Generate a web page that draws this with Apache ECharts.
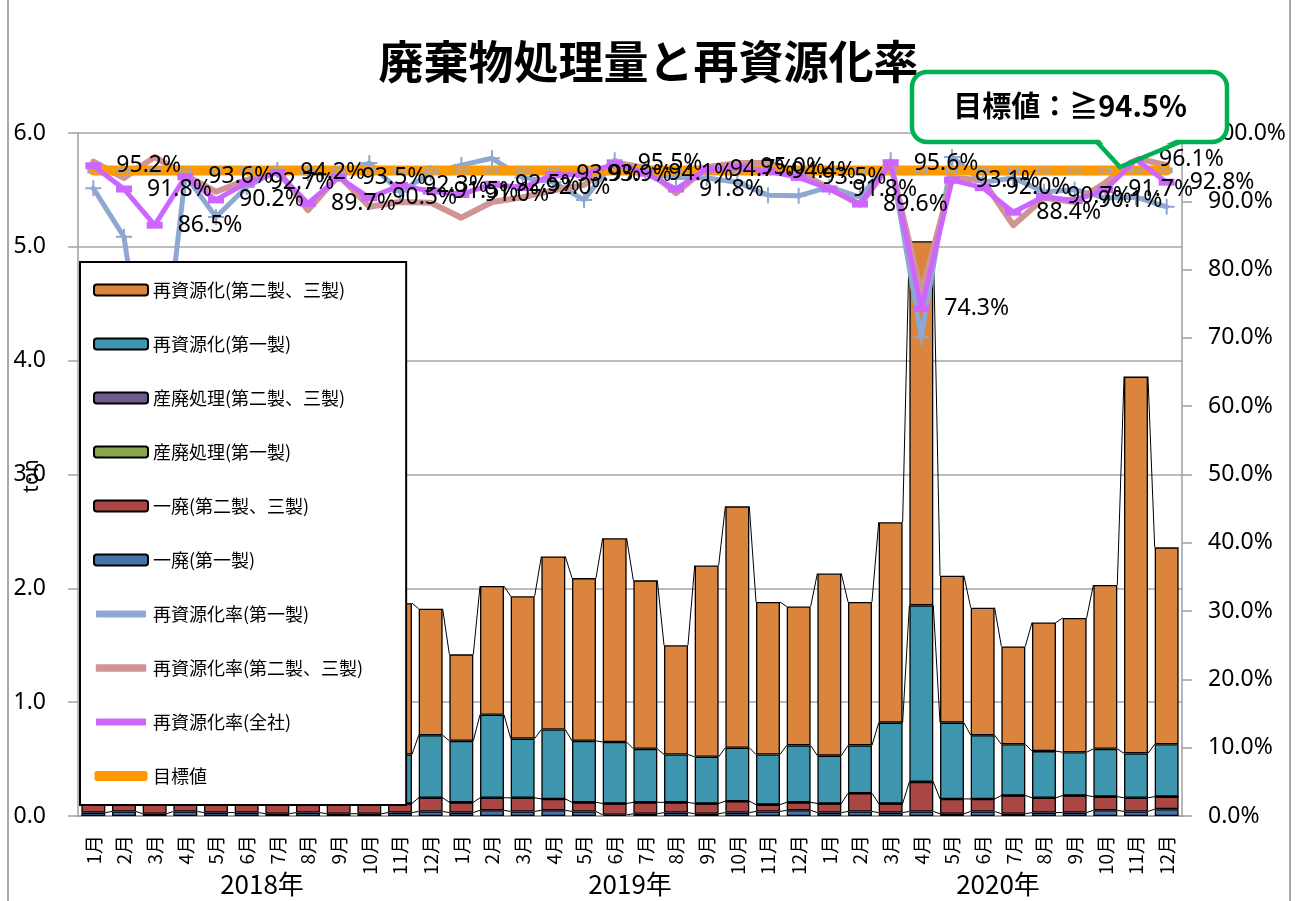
<!DOCTYPE html>
<html>
<head>
<meta charset="utf-8">
<script src="https://cdn.jsdelivr.net/npm/echarts@6/dist/echarts.min.js"></script>
<style>
  html, body { margin: 0; padding: 0; background: #fff; }
  #chart { width: 1297px; height: 901px; }
</style>
</head>
<body>
<div id="chart"></div>
<script>
// カテゴリ
var months = ['1月', '2月', '3月', '4月', '5月', '6月', '7月', '8月', '9月', '10月', '11月', '12月',
  '1月', '2月', '3月', '4月', '5月', '6月', '7月', '8月', '9月', '10月', '11月', '12月',
  '1月', '2月', '3月', '4月', '5月', '6月', '7月', '8月', '9月', '10月', '11月', '12月'];
var years = ['2018年', '2019年', '2020年'];

// 処理量 (ton)
var ippai1 = [0.03, 0.04, 0.02, 0.04, 0.03, 0.03, 0.02, 0.03, 0.02, 0.02, 0.03, 0.04,
  0.03, 0.05, 0.04, 0.05, 0.04, 0.01, 0.02, 0.03, 0.02, 0.03, 0.04, 0.05,
  0.03, 0.04, 0.03, 0.04, 0.02, 0.04, 0.02, 0.03, 0.03, 0.05, 0.04, 0.06];
var ippai23 = [0.08, 0.06, 0.08, 0.06, 0.07, 0.07, 0.08, 0.07, 0.08, 0.08, 0.08, 0.12,
  0.09, 0.11, 0.12, 0.10, 0.08, 0.10, 0.10, 0.09, 0.09, 0.10, 0.06, 0.07,
  0.08, 0.16, 0.08, 0.26, 0.13, 0.11, 0.16, 0.13, 0.15, 0.12, 0.12, 0.11];
var sanpai1 = [0, 0, 0, 0, 0, 0, 0, 0, 0, 0, 0, 0,
  0, 0, 0, 0, 0, 0, 0, 0, 0, 0, 0, 0,
  0, 0, 0, 0, 0, 0, 0, 0, 0, 0, 0, 0];
var sanpai23 = [0, 0, 0, 0, 0, 0, 0, 0, 0, 0, 0, 0,
  0, 0, 0, 0, 0, 0, 0, 0, 0, 0, 0, 0,
  0, 0, 0, 0, 0, 0, 0, 0, 0, 0, 0, 0];
var sai1 = [0.44, 0.48, 0.52, 0.45, 0.50, 0.55, 0.47, 0.52, 0.48, 0.50, 0.43, 0.55,
  0.54, 0.73, 0.52, 0.61, 0.54, 0.54, 0.47, 0.42, 0.41, 0.47, 0.44, 0.50,
  0.42, 0.42, 0.71, 1.55, 0.67, 0.56, 0.45, 0.41, 0.38, 0.42, 0.39, 0.46];
var sai23 = [1.86, 1.32, 1.48, 1.25, 1.40, 1.55, 1.33, 1.68, 1.42, 1.50, 1.33, 1.11,
  0.76, 1.13, 1.25, 1.52, 1.43, 1.79, 1.48, 0.96, 1.68, 2.12, 1.34, 1.22,
  1.60, 1.26, 1.76, 3.20, 1.29, 1.12, 0.86, 1.13, 1.18, 1.44, 3.31, 1.73];

// 再資源化率 (%)
var rate1 = [91.9, 84.8, 55.0, 93.8, 87.7, 92.1, 94.6, 94.1, 94.0, 95.6, 91.4, 94.1,
  95.3, 96.3, 93.5, 92.8, 90.2, 96.0, 94.1, 93.5, 93.4, 92.8, 90.9, 90.8,
  92.1, 90.6, 96.0, 70.1, 96.5, 92.8, 93.4, 91.4, 91.7, 90.5, 90.6, 89.2];
var rate23 = [95.8, 93.4, 96.5, 93.8, 91.4, 93.1, 94.6, 88.7, 93.8, 89.2, 89.9, 89.8,
  87.6, 89.9, 90.6, 91.6, 92.4, 95.7, 94.9, 91.2, 95.0, 95.6, 95.6, 94.3,
  91.9, 89.5, 95.5, 76.5, 93.4, 93.1, 86.5, 90.5, 89.9, 92.7, 96.3, 95.3];
var rateAll = [95.2, 91.8, 86.5, 93.6, 90.2, 92.7, 94.2, 89.7, 93.5, 90.5, 92.3, 91.5,
  91.0, 92.5, 92.0, 93.9, 93.9, 95.5, 94.1, 91.8, 94.7, 95.0, 94.4, 93.5,
  91.8, 89.6, 95.6, 74.3, 93.1, 92.0, 88.4, 90.7, 90.1, 91.7, 96.1, 92.8];
var target = [94.5, 94.5, 94.5, 94.5, 94.5, 94.5, 94.5, 94.5, 94.5, 94.5, 94.5, 94.5,
  94.5, 94.5, 94.5, 94.5, 94.5, 94.5, 94.5, 94.5, 94.5, 94.5, 94.5, 94.5,
  94.5, 94.5, 94.5, 94.5, 94.5, 94.5, 94.5, 94.5, 94.5, 94.5, 94.5, 94.5];

var BAR_GAP = 0.22;
var FONT = '"Noto Sans", "Noto Sans CJK JP", sans-serif';
var CJK = '"Noto Sans CJK JP", sans-serif';
var GREEN = '#00B050';
var C_RATE1 = '#8FA8D2';
var C_RATE23 = '#D09494';
var C_ALL = '#CC66FF';
var C_TARGET = '#FF9900';

// 積み上げの各段の上端 (区分線用)
var stackTops = [];
(function () {
  var acc = months.map(function () { return 0; });
  [ippai1, ippai23, sai1, sai23].forEach(function (arr, k) {
    acc = acc.map(function (v, i) { return v + arr[i] + (k === 2 ? sanpai1[i] + sanpai23[i] : 0); });
    stackTops.push(acc.slice());
  });
})();

function seriesLines (params, api) {
  var i = api.value(0);
  var half = api.size([1, 0])[0] * (1 - BAR_GAP) / 2;
  var children = stackTops.map(function (tops) {
    var a = api.coord([i, tops[i]]);
    var b = api.coord([i + 1, tops[i + 1]]);
    return {
      type: 'line',
      shape: { x1: a[0] + half, y1: a[1], x2: b[0] - half, y2: b[1] },
      style: { stroke: '#000', lineWidth: 1 }
    };
  });
  return { type: 'group', children: children };
}

function barSeries (name, data, color) {
  return {
    name: name,
    type: 'bar',
    stack: 'waste',
    barCategoryGap: (BAR_GAP * 100) + '%',
    data: data,
    itemStyle: { color: color, borderColor: '#000', borderWidth: 1.3 },
    emphasis: { disabled: true }
  };
}

// 凡例の線アイコン (丸端の太線)
function lineIcon (name, color, border) {
  return {
    name: name,
    icon: 'roundRect',
    itemStyle: { color: color, borderColor: '#fff', borderWidth: border }
  };
}

var plusPath = 'path://M7,0 L9,0 L9,7 L16,7 L16,9 L9,9 L9,16 L7,16 L7,9 L0,9 L0,7 L7,7 Z';

var chart = echarts.init(document.getElementById('chart'), null, { renderer: 'canvas' });

var option = {
  animation: false,
  backgroundColor: '#fff',
  title: {
    text: '廃棄物処理量と再資源化率',
    left: 'center',
    top: 34,
    textStyle: { fontSize: 45, fontWeight: 'bold', color: '#000', fontFamily: CJK }
  },
  grid: { left: 78, right: 115, top: 133, bottom: 85, outerBoundsMode: 'none' },
  legend: {
    orient: 'vertical',
    left: 80,
    top: 262,
    padding: [18, 43, 19, 12],
    itemWidth: 54,
    itemHeight: 11,
    itemGap: 34,
    backgroundColor: '#fff',
    borderColor: '#000',
    borderWidth: 2,
    textStyle: { fontSize: 18, lineHeight: 20, color: '#000', fontFamily: CJK },
    data: ['再資源化(第二製、三製)', '再資源化(第一製)', '産廃処理(第二製、三製)', '産廃処理(第一製)',
      '一廃(第二製、三製)', '一廃(第一製)',
      lineIcon('再資源化率(第一製)', C_RATE1, 4),
      lineIcon('再資源化率(第二製、三製)', C_RATE23, 3.5),
      lineIcon('再資源化率(全社)', C_ALL, 4),
      lineIcon('目標値', C_TARGET, 1)]
  },
  xAxis: [
    {
      type: 'category',
      data: months,
      axisLine: { lineStyle: { color: '#A0A0A0', width: 1.5 } },
      axisTick: { show: false },
      axisLabel: { interval: 0, rotate: 90, margin: 19, fontSize: 19, color: '#000', fontFamily: CJK }
    },
    {
      type: 'category',
      data: years,
      position: 'bottom',
      axisLine: { show: false },
      axisTick: { show: false },
      axisLabel: { margin: 55, fontSize: 26, color: '#000', fontFamily: CJK }
    }
  ],
  yAxis: [
    {
      type: 'value',
      min: 0,
      max: 6,
      interval: 1,
      axisLine: { show: true, lineStyle: { color: '#A0A0A0', width: 1.5 } },
      axisTick: { show: true, length: 10, lineStyle: { color: '#A0A0A0', width: 1.5 } },
      splitLine: { lineStyle: { color: '#A6A6A6', width: 1.5 } },
      axisLabel: { margin: 32, fontSize: 23, color: '#000', fontFamily: FONT,
        formatter: function (v) { return v.toFixed(1); } }
    },
    {
      type: 'value',
      min: 0,
      max: 100,
      interval: 10,
      position: 'right',
      axisLine: { show: true, lineStyle: { color: '#A0A0A0', width: 1.5 } },
      axisTick: { show: true, length: 10, lineStyle: { color: '#A0A0A0', width: 1.5 } },
      splitLine: { show: false },
      axisLabel: { margin: 26, fontSize: 23, color: '#000', fontFamily: FONT,
        formatter: function (v) { return v.toFixed(1) + '%'; } }
    }
  ],
  series: [
    barSeries('一廃(第一製)', ippai1, '#4572A7'),
    barSeries('一廃(第二製、三製)', ippai23, '#AA4643'),
    barSeries('産廃処理(第一製)', sanpai1, '#89A54E'),
    barSeries('産廃処理(第二製、三製)', sanpai23, '#71588F'),
    barSeries('再資源化(第一製)', sai1, '#3D96AE'),
    barSeries('再資源化(第二製、三製)', sai23, '#DB843D'),
    {
      type: 'custom',
      renderItem: seriesLines,
      data: months.slice(0, months.length - 1).map(function (m, i) { return [i, stackTops[3][i]]; }),
      encode: { x: 0, y: 1 },
      silent: true,
      z: 2
    },
    {
      name: '再資源化率(第一製)',
      type: 'line',
      yAxisIndex: 1,
      data: rate1,
      symbol: plusPath,
      symbolSize: 16,
      itemStyle: { color: C_RATE1 },
      lineStyle: { color: C_RATE1, width: 5, cap: 'round', join: 'round' },
      z: 3
    },
    {
      name: '再資源化率(第二製、三製)',
      type: 'line',
      yAxisIndex: 1,
      data: rate23,
      symbol: 'none',
      itemStyle: { color: C_RATE23 },
      lineStyle: { color: C_RATE23, width: 6, cap: 'round', join: 'round' },
      z: 3
    },
    {
      name: '目標値',
      type: 'line',
      yAxisIndex: 1,
      data: target,
      symbol: 'rect',
      symbolSize: [10, 5],
      itemStyle: { color: C_TARGET, borderColor: '#9AA6C8', borderWidth: 1.5 },
      lineStyle: { color: C_TARGET, width: 10, cap: 'round' },
      z: 3
    },
    {
      name: '再資源化率(全社)',
      type: 'line',
      yAxisIndex: 1,
      data: rateAll,
      symbol: 'rect',
      symbolSize: [16, 7],
      itemStyle: { color: C_ALL },
      lineStyle: { color: C_ALL, width: 5, cap: 'round', join: 'round' },
      label: {
        show: true,
        position: 'right',
        distance: 15,
        fontSize: 23,
        color: '#000',
        fontFamily: FONT,
        formatter: function (p) { return p.value.toFixed(1) + '%'; }
      },
      z: 4
    }
  ],
  graphic: [
    {
      type: 'rect',
      shape: { x: 8, y: -4, width: 1282, height: 912 },
      style: { fill: 'none', stroke: '#8C8C8C', lineWidth: 1.5 },
      silent: true,
      z: 0
    },
    // 縦軸タイトル
    {
      type: 'text',
      x: 32,
      y: 476,
      rotation: Math.PI / 2,
      style: {
        text: 'ton',
        fontSize: 21,
        fontFamily: FONT,
        fill: '#000',
        align: 'center',
        verticalAlign: 'middle'
      },
      z: 50
    },
    // 吹き出し
    {
      type: 'rect',
      shape: { x: 912, y: 72, width: 315, height: 70, r: 15 },
      style: { fill: '#fff', stroke: GREEN, lineWidth: 4.5 },
      z: 100
    },
    {
      type: 'polygon',
      shape: { points: [[1099, 139], [1120, 164], [1178, 139]] },
      style: { fill: '#fff' },
      z: 101
    },
    {
      type: 'polyline',
      shape: { points: [[1097, 142], [1120, 167], [1180, 142]] },
      style: { stroke: GREEN, lineWidth: 4.5, lineJoin: 'miter', fill: null },
      z: 101
    },
    {
      type: 'text',
      x: 1070,
      y: 106,
      style: {
        text: '目標値：≧94.5%',
        fontSize: 29,
        fontWeight: 'bold',
        fontFamily: CJK,
        fill: '#000',
        align: 'center',
        verticalAlign: 'middle'
      },
      z: 102
    }
  ]
};

chart.setOption(option);
</script>
</body>
</html>
